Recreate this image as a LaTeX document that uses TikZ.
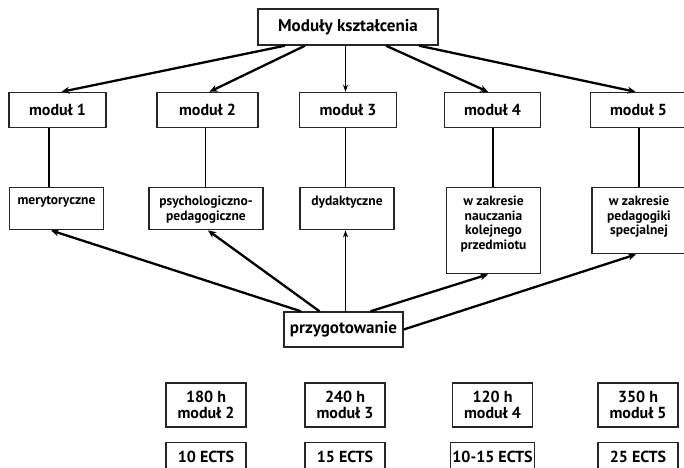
\documentclass[tikz,border=0pt]{standalone}
\usepackage{fontspec}
\setmainfont{PT Sans}
\usetikzlibrary{arrows.meta}
\begin{document}
\begin{tikzpicture}[x=1pt,y=1pt,
    box/.style={draw=black!85,line width=1.4pt,fill=white,inner sep=2pt,font=\bfseries\fontsize{16}{16.7}\selectfont,align=center},
    sub/.style={draw=black!85,line width=1.4pt,anchor=north,inner sep=2pt,font=\bfseries\fontsize{13.5}{14.7}\selectfont},
    arr/.style={line width=2.3pt,-{Stealth[length=8pt,width=7pt]}},
    thin/.style={line width=1.3pt,-{Stealth[length=7pt,width=5pt]}},
    link/.style={line width=1.8pt}]
                \useasboundingbox (0,0) rectangle (684,467);
                \node[box,minimum width=180,minimum height=36,font=\bfseries\fontsize{17}{18}\selectfont] (top) at (348,440) {Moduły kształcenia};
                \node[box,minimum width=97,minimum height=35] (m1) at (57.5,357) {moduł 1};
                \node[box,minimum width=101,minimum height=35] (m2) at (207.5,357) {moduł 2};
                \node[box,minimum width=97,minimum height=35] (m3) at (348,357) {moduł 3};
                \node[box,minimum width=96,minimum height=35] (m4) at (492.5,357) {moduł 4};
                \node[box,minimum width=96,minimum height=35] (m5) at (638.5,357) {moduł 5};
                \node[sub] (r1) at (56.5,280) {\parbox[t][38pt][t]{90pt}{\centering\vspace{6pt}merytoryczne}};
                \node[sub] (r2) at (206,280) {\parbox[t][38pt][t]{110pt}{\centering\vspace{6pt}psychologiczno-\\pedagogiczne}};
                \node[sub] (r3) at (347,280) {\parbox[t][38pt][t]{90pt}{\centering\vspace{6pt}dydaktyczne}};
                \node[sub] (r4) at (493.5,280) {\parbox[t][82pt][t]{90pt}{\centering\vspace{6pt}w zakresie\\nauczania\\kolejnego\\przedmiotu}};
                \node[sub] (r5) at (639,280) {\parbox[t][62pt][t]{90pt}{\centering\vspace{6pt}w zakresie\\pedagogiki\\specjalnej}};
                \node[box,minimum width=119,minimum height=35,font=\bfseries\fontsize{17}{18}\selectfont] (prep) at (343.5,137.5) {przygotowanie};
                \node[box,minimum width=80,minimum height=44] (h2) at (206,62) {180 h\\moduł 2};
                \node[box,minimum width=80,minimum height=44] (h3) at (345,62) {240 h\\moduł 3};
                \node[box,minimum width=80,minimum height=44] (h4) at (492.5,62) {120 h\\moduł 4};
                \node[box,minimum width=80,minimum height=44] (h5) at (638,62) {350 h\\moduł 5};
                \node[box,minimum width=80,minimum height=36,anchor=north] (e2) at (206,25) {\raisebox{7pt}{10 ECTS}};
                \node[box,minimum width=80,minimum height=36,anchor=north] (e3) at (345,25) {\raisebox{7pt}{15 ECTS}};
                \node[box,minimum width=80,minimum height=36,anchor=north] (e4) at (492.5,25) {\raisebox{7pt}{10-15 ECTS}};
                \node[box,minimum width=80,minimum height=36,anchor=north] (e5) at (638,25) {\raisebox{7pt}{25 ECTS}};
                % od modulow do przygotowania
                \draw[arr] ([xshift=-63pt]top.south) -- ([xshift=4pt]m1.north);
                \draw[arr] ([xshift=-43pt]top.south) -- ([xshift=2pt]m2.north);
                \draw[thin] ([xshift=-2.5pt]top.south) -- ([xshift=-2.5pt]m3.north);
                \draw[arr] ([xshift=38pt]top.south) -- ([xshift=-4.5pt]m4.north);
                \draw[arr] ([xshift=71pt]top.south) -- ([xshift=-3pt]m5.north);
                \draw[link] ([xshift=-8.5pt]m1.south) -- ([xshift=-7.5pt]r1.north);
                \draw[link] ([xshift=-2pt]m2.south) -- ([xshift=-0.5pt]r2.north);
                \draw[link] ([xshift=-2.5pt]m3.south) -- ([xshift=-1.5pt]r3.north);
                \draw[link] ([xshift=0.5pt]m4.south) -- ([xshift=-0.5pt]r4.north);
                \draw[link] ([xshift=0.5pt]m5.south) -- (r5.north);
                \draw[arr] ([xshift=-42.5pt]prep.north) -- ([xshift=-5.5pt]r1.south);
                \draw[arr] ([xshift=-24pt]prep.north) -- ([xshift=2pt]r2.south);
                \draw[thin,line width=1.6pt] ([xshift=2pt]prep.north) -- ([xshift=-1.5pt]r3.south);
                \draw[arr] ([xshift=27pt]prep.north) -- ([xshift=-5.5pt]r4.south);
                \draw[arr] (prep.east) -- ([xshift=-3pt]r5.south);
            \end{tikzpicture}
\end{document}
